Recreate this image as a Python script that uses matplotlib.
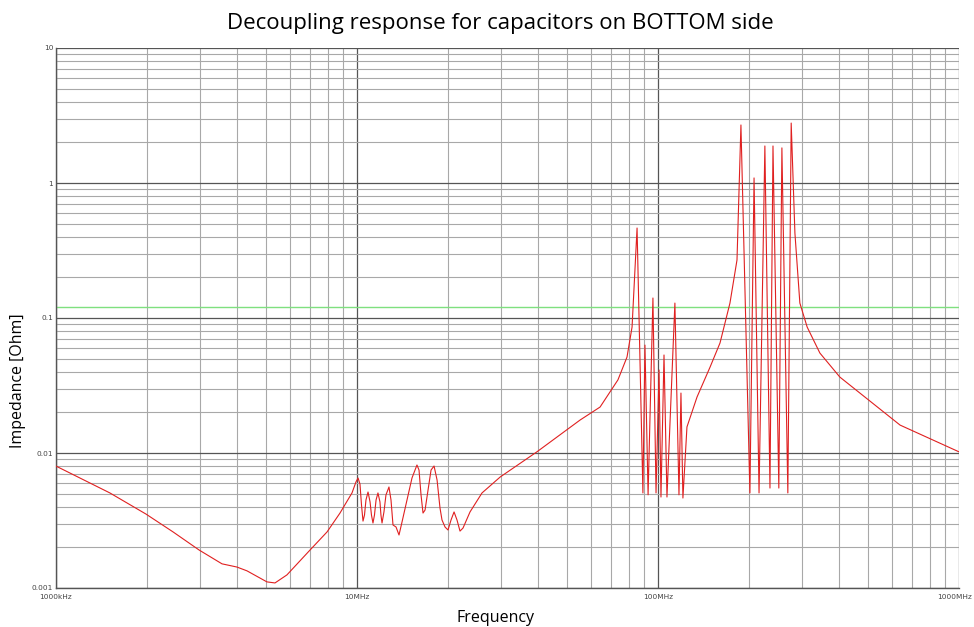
import numpy as np
import matplotlib
matplotlib.use("Agg")
import matplotlib.pyplot as plt
import matplotlib.transforms as mtransforms
from matplotlib.ticker import LogLocator, NullFormatter, FixedLocator

# impedance curve (MHz, Ohm)
freq_mhz = [1.0, 1.51, 1.99, 2.45, 2.99, 3.56, 3.99, 4.31, 5.02, 5.34, 5.85,
            6.98, 7.95, 8.78, 9.19, 9.625, 9.92, 10.08, 10.23, 10.35, 10.47,
            10.59, 10.71, 10.88, 11.05, 11.17, 11.30, 11.43, 11.57, 11.74,
            11.92, 12.01, 12.11, 12.29, 12.48, 12.77, 12.97, 13.17, 13.48,
            13.79, 14.11, 14.66, 15.23, 15.82, 16.07, 16.32, 16.57, 16.83,
            17.22, 17.62, 18.03, 18.45, 18.87, 19.16, 19.61, 20.06, 20.53,
            21.01, 21.49, 21.99, 22.50, 23.74, 26.02,
            29.9, 39.6, 55.1, 64.2, 73.6, 78.9, 82.0, 85.2, 89.1, 90.5, 92.7,
            96.2, 98.5, 100.8, 102.3, 104.7, 107.1, 113.8, 117.4, 119.2, 121.0,
            124.8, 134.8, 149.0, 160.7, 173.4, 183.0, 188.6, 202.0, 208.5,
            216.6, 226.5, 235.5, 241.0, 252.0, 258.0, 270.0, 277.0, 285.0,
            296.0, 313.0, 345.0, 402.0, 637.0, 1000.0]
imp_ohm = [0.0080, 0.00506, 0.00353, 0.0026, 0.00191, 0.00151, 0.00143, 0.00134,
           0.00111, 0.00109, 0.00125, 0.00191, 0.0026, 0.00359, 0.00426,
           0.00506, 0.00610, 0.00653, 0.00589, 0.00412, 0.00313, 0.00347,
           0.00449, 0.00514, 0.00434, 0.00347, 0.00303, 0.00347, 0.00449,
           0.00506, 0.00434, 0.00347, 0.00303, 0.00366, 0.00489, 0.00560,
           0.00449, 0.00293, 0.00283, 0.00247, 0.00308, 0.00449, 0.00653,
           0.00815, 0.00748, 0.00489, 0.00359, 0.00378, 0.00532, 0.00748,
           0.00801, 0.00631, 0.00391, 0.00319, 0.00283, 0.00269, 0.00319,
           0.00366, 0.00319, 0.00264, 0.00278, 0.00366, 0.00506,
           0.00664, 0.0102, 0.01755, 0.0219, 0.0348, 0.0514, 0.0857,
           0.464, 0.00506, 0.063, 0.0049, 0.1406, 0.00506, 0.0412, 0.00472,
           0.0532, 0.00472, 0.129, 0.0049, 0.0278, 0.00464, 0.0156, 0.026,
           0.0434, 0.0653, 0.129, 0.269, 2.69, 0.00506, 1.09, 0.00506, 1.88,
           0.0055, 1.88, 0.0055, 1.82, 0.00506, 2.78, 0.426, 0.129, 0.0857,
           0.055, 0.0365, 0.0161, 0.0102]
target_ohm = 0.12

x_ticks = [1e6, 1e7, 1e8, 1e9]
x_labels = ["1000kHz", "10MHz", "100MHz", "1000MHz"]
y_ticks = [0.001, 0.01, 0.1, 1, 10]
y_labels = ["0.001", "0.01", "0.1", "1", "10"]

fig = plt.figure(figsize=(9.74, 6.27), dpi=100)
ax = fig.add_axes([56 / 974, 39 / 627, 903 / 974, 540 / 627])

f_hz = np.array(freq_mhz) * 1e6
ax.plot(f_hz, imp_ohm, color="#e02020", lw=0.8, zorder=3)
ax.axhline(target_ohm, color="#7fe07f", lw=1.0, zorder=2)

ax.set_xscale("log")
ax.set_yscale("log")
ax.set_xlim(1e6, 1e9)
ax.set_ylim(0.001, 10)

ax.xaxis.set_major_locator(FixedLocator(x_ticks))
ax.set_xticklabels(x_labels)
ax.yaxis.set_major_locator(FixedLocator(y_ticks))
ax.set_yticklabels(y_labels)
for a in (ax.xaxis, ax.yaxis):
    a.set_minor_locator(LogLocator(base=10, subs=np.arange(2, 10)))
    a.set_minor_formatter(NullFormatter())

ax.grid(which="major", color="#555555", lw=0.9)
ax.grid(which="minor", color="#a8a8a8", lw=0.8)
ax.set_axisbelow(True)
ax.tick_params(which="both", length=0, labelsize=5.3, labelcolor="#444444")
ax.tick_params(axis="x", pad=4)
ax.tick_params(axis="y", pad=2)

# last x label sits at the figure edge: nudge it a few pixels in
last = ax.get_xticklabels()[-1]
last.set_transform(last.get_transform() +
                   mtransforms.ScaledTranslation(-4 / 100, 0, fig.dpi_scale_trans))

for side in ("top", "right"):
    ax.spines[side].set_visible(False)
for side in ("left", "bottom"):
    ax.spines[side].set_color("#555555")
    ax.spines[side].set_linewidth(1.0)

ax.set_xlabel("Frequency", fontsize=11.5, family="Open Sans", va="center")
ax.xaxis.set_label_coords(439 / 903, -30 / 540)
ax.set_ylabel("Impedance [Ohm]", fontsize=11.5, family="Open Sans", va="center")
ax.yaxis.set_label_coords(-38 / 903, 207 / 540)
fig.text(0.514, 0.963, "Decoupling response for capacitors on BOTTOM side",
         ha="center", va="center", fontsize=16, family="Open Sans")

fig.savefig("out.png", dpi=100)
